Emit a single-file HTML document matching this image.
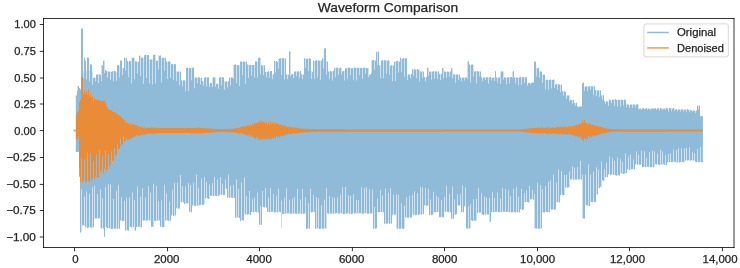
<!DOCTYPE html>
<html><head><meta charset="utf-8"><title>Waveform Comparison</title>
<style>html,body{margin:0;padding:0;background:#fff;}body{width:740px;height:268px;overflow:hidden;font-family:"Liberation Sans",sans-serif;}svg{display:block;will-change:transform;}svg text{font-family:"Liberation Sans",sans-serif;}</style>
</head><body>
<svg width="740" height="268" viewBox="0 0 740 268">
<rect width="740" height="268" fill="#fff"/>
<path fill="#8fbbd9" d="M75.8 95.26H76V151.88H75.8ZM76 95.52H76.45V151.94H76ZM76.45 95.52H77V151.99H76.45ZM77 86.29H77.45V151.95H77ZM77.45 90.96H78V151.95H77.45ZM78 86.03H78.45V151.65H78ZM78.45 86.03H79V151.84H78.45ZM79 88.07H80V167.66H79ZM80 88.66H80.45V232.4H80ZM80.45 89.6H81V232.4H80.45ZM81 28.75H81.45V231.74H81ZM81.45 28.75H82V189.36H81.45ZM82 28.57H83V225.22H82ZM83 71.04H83.45V225.31H83ZM83.45 78.52H84V225.31H83.45ZM84 57.62H84.45V225.91H84ZM84.45 57.62H85V196.55H84.45ZM85 60.65H86V227.36H85ZM86 70.47H86.45V226.99H86ZM86.45 79.27H87V191.46H86.45ZM87 57.55H88V227.95H87ZM88 57.66H89V227.46H88ZM89 70.34H89.45V227.75H89ZM89.45 81.42H90V193.89H89.45ZM90 64.24H91V227.36H90ZM91 64.56H92V227.8H91ZM92 71.46H92.45V227.58H92ZM92.45 84.53H93V187.49H92.45ZM93 77.73H94V227.22H93ZM94 77.59H94.45V218.67H94ZM94.45 77.59H95V185.8H94.45ZM95 77.62H95.45V218.61H95ZM95.45 81.16H96V218.61H95.45ZM96 74.53H97V218.39H96ZM97 74.46H97.45V218.3H97ZM97.45 74.46H98V194.01H97.45ZM98 74.56H98.45V218.52H98ZM98.45 82.94H99V218.52H98.45ZM99 74.36H100V218.33H99ZM100 74.76H100.45V228.62H100ZM100.45 74.76H101V189.32H100.45ZM101 64.55H101.45V228.44H101ZM101.45 81.12H102V228.44H101.45ZM102 65.29H102.45V228.34H102ZM102.45 65.29H103V198.22H102.45ZM103 60.81H104V228.47H103ZM104 60.52H104.45V236.63H104ZM104.45 72.96H105V236.63H104.45ZM105 70.09H105.45V227.45H105ZM105.45 70.09H106V186.83H105.45ZM106 71.1H107V227.3H106ZM107 71.31H107.45V228.3H107ZM107.45 77.52H108V228.3H107.45ZM108 71.36H108.45V228.56H108ZM108.45 71.36H109V184.31H108.45ZM109 71.66H110V228.31H109ZM110 71.22H110.45V228.67H110ZM110.45 79.68H111V184.34H110.45ZM111 71.77H112V228.88H111ZM112 71.14H113V228.81H112ZM113 71.19H113.45V228.61H113ZM113.45 81.42H114V198.98H113.45ZM114 71H115V228.66H114ZM115 71.3H116V228.55H115ZM116 71.76H116.45V228.45H116ZM116.45 80.84H117V190.68H116.45ZM117 65.04H118V228.96H117ZM118 65.22H118.45V228.38H118ZM118.45 65.22H119V184.72H118.45ZM119 65.14H119.45V228.69H119ZM119.45 77.43H120V228.69H119.45ZM120 60.58H121V220.49H120ZM121 60.55H121.45V220.95H121ZM121.45 60.55H122V197.33H121.45ZM122 68.13H122.45V220.73H122ZM122.45 75.05H123V220.73H122.45ZM123 68H124V220.88H123ZM124 57.58H124.45V220.71H124ZM124.45 57.58H125V200.83H124.45ZM125 58.2H125.45V230.51H125ZM125.45 70.83H126V230.51H125.45ZM126 57.7H126.45V230.72H126ZM126.45 57.7H127V197.47H126.45ZM127 61.1H128V230.32H127ZM128 61.79H128.45V230.63H128ZM128.45 77.21H129V230.63H128.45ZM129 61.07H129.45V227.42H129ZM129.45 61.07H130V196.96H129.45ZM130 61.21H131V226.84H130ZM131 57.63H131.45V227.48H131ZM131.45 83.45H132V227.48H131.45ZM132 57.92H132.45V227.38H132ZM132.45 57.92H133V192.45H132.45ZM133 57.52H134V227.08H133ZM134 58.28H134.45V230.31H134ZM134.45 79.59H135V199.95H134.45ZM135 61.29H136V230.87H135ZM136 61.62H137V227.07H136ZM137 61.62H137.45V227.24H137ZM137.45 73.81H138V186.47H137.45ZM138 61.79H139V226.82H138ZM139 55.64H140V226.85H139ZM140 55.59H140.45V227.32H140ZM140.45 76.18H141V196.8H140.45ZM141 57.52H142V227.48H141ZM142 57.72H142.45V220.79H142ZM142.45 57.72H143V188.25H142.45ZM143 58.27H143.45V220.64H143ZM143.45 83.67H144V220.64H143.45ZM144 55.29H145V220.24H144ZM145 54.79H145.45V220.82H145ZM145.45 54.79H146V197.26H145.45ZM146 54.66H146.45V220.84H146ZM146.45 77.99H147V220.84H146.45ZM147 55.22H148V220.33H147ZM148 54.88H148.45V220.48H148ZM148.45 54.88H149V186.28H148.45ZM149 59.07H149.45V220.47H149ZM149.45 83.49H150V220.47H149.45ZM150 59.63H150.45V220.4H150ZM150.45 59.63H151V192.4H150.45ZM151 59.14H152V226.87H151ZM152 59.27H152.45V226.86H152ZM152.45 84.56H153V226.86H152.45ZM153 54.82H153.45V227.18H153ZM153.45 54.82H154V183.77H153.45ZM154 55.08H155V220.86H154ZM155 54.6H155.45V220.88H155ZM155.45 83.37H156V220.88H155.45ZM156 60.65H156.45V220.88H156ZM156.45 60.65H157V185.97H156.45ZM157 60.78H158V220.47H157ZM158 55.28H158.45V220.56H158ZM158.45 69.61H159V201.36H158.45ZM159 55.78H160V220.48H159ZM160 55.42H161V226.75H160ZM161 57.85H161.45V226.8H161ZM161.45 82.46H162V200.14H161.45ZM162 57.7H163V227.27H162ZM163 57.69H164V227.03H163ZM164 57.71H164.45V227.16H164ZM164.45 70.98H165V184.83H164.45ZM165 57.78H166V220.63H165ZM166 61.47H166.45V220.28H166ZM166.45 61.47H167V193.71H166.45ZM167 61.73H167.45V220.6H167ZM167.45 78.86H168V220.6H167.45ZM168 61.42H169V220.99H168ZM169 61.35H169.45V220.85H169ZM169.45 61.35H170V201.82H169.45ZM170 61.64H170.45V220.86H170ZM170.45 78.07H171V220.86H170.45ZM171 64.33H172V215.55H171ZM172 64.01H172.45V215.59H172ZM172.45 64.01H173V189.54H172.45ZM173 64.38H173.45V215.92H173ZM173.45 80.12H174V215.92H173.45ZM174 63.95H174.45V215.78H174ZM174.45 63.95H175V182.74H174.45ZM175 64.16H176V215.55H175ZM176 71.61H176.45V208.27H176ZM176.45 81.11H177V208.27H176.45ZM177 71.49H177.45V208.6H177ZM177.45 71.49H178V182.44H177.45ZM178 71.55H179V208.64H178ZM179 71.43H179.45V208.62H179ZM179.45 85.47H180V208.62H179.45ZM180 71.56H180.45V201.8H180ZM180.45 71.56H181V174.8H180.45ZM181 80.21H182V202.05H181ZM182 80.75H182.45V201.83H182ZM182.45 86.17H183V186.22H182.45ZM183 80.35H184V202.44H183ZM184 80.19H185V203.94H184ZM185 80.54H185.45V203.37H185ZM185.45 91.19H186V186.42H185.45ZM186 68.07H187V203.47H186ZM187 67.61H188V203.29H187ZM188 68.27H188.45V203.82H188ZM188.45 91.12H189V182.97H188.45ZM189 67.89H190V211.71H189ZM190 68.17H190.45V212.37H190ZM190.45 68.17H191V184.91H190.45ZM191 67.91H191.45V212.23H191ZM191.45 80.22H192V212.23H191.45ZM192 67.75H193V205.42H192ZM193 67.52H193.45V205.56H193ZM193.45 67.52H194V182.83H193.45ZM194 77.01H194.45V205.73H194ZM194.45 88.31H195V205.73H194.45ZM195 77.41H196V205.95H195ZM196 77.79H196.45V205.37H196ZM196.45 77.79H197V174.44H196.45ZM197 77.08H197.45V205.79H197ZM197.45 83.2H198V205.79H197.45ZM198 77.62H198.45V205.78H198ZM198.45 77.62H199V187.83H198.45ZM199 77.34H200V205.27H199ZM200 77.66H200.45V204.79H200ZM200.45 84.39H201V204.79H200.45ZM201 77.74H201.45V204.54H201ZM201.45 77.74H202V178.58H201.45ZM202 81.07H203V204.95H202ZM203 81.55H203.45V204.66H203ZM203.45 85.88H204V204.66H203.45ZM204 77.75H204.45V204.49H204ZM204.45 77.75H205V177.02H204.45ZM205 77.07H206V198.32H205ZM206 77.05H206.45V198.31H206ZM206.45 86.58H207V182.03H206.45ZM207 77.44H208V198.26H207ZM208 77.21H209V198.9H208ZM209 83.42H209.45V198.81H209ZM209.45 87.01H210V184.4H209.45ZM210 83.04H211V195.84H210ZM211 83.25H212V195.76H211ZM212 77.61H212.45V195.77H212ZM212.45 87.01H213V182.95H212.45ZM213 77.28H214V195.99H213ZM214 77.2H214.45V195.99H214ZM214.45 77.2H215V176.93H214.45ZM215 77.44H215.45V195.85H215ZM215.45 86.68H216V195.85H215.45ZM216 83.75H217V195.91H216ZM217 83.66H217.45V195.65H217ZM217.45 83.66H218V179.47H217.45ZM218 83.67H218.45V195.69H218ZM218.45 88.72H219V195.69H218.45ZM219 77.55H220V195.21H219ZM220 77.27H220.45V194.33H220ZM220.45 77.27H221V176.98H220.45ZM221 77.51H221.45V194.68H221ZM221.45 85.56H222V194.68H221.45ZM222 77.04H222.45V194.9H222ZM222.45 77.04H223V183.71H222.45ZM223 77.59H224V194.8H223ZM224 81.13H224.45V194.93H224ZM224.45 89.74H225V194.93H224.45ZM225 81.7H225.45V188.46H225ZM225.45 81.7H226V179.19H225.45ZM226 81.19H227V188.77H226ZM227 81.37H227.45V197.87H227ZM227.45 87.5H228V197.87H227.45ZM228 81.21H228.45V197.23H228ZM228.45 81.21H229V174.32H228.45ZM229 77.44H230V197.8H229ZM230 77.77H230.45V197.75H230ZM230.45 85.56H231V185.86H230.45ZM231 77.31H232V197.62H231ZM232 77.4H233V197.84H232ZM233 64.9H233.45V198H233ZM233.45 79.12H234V184.92H233.45ZM234 64.82H235V197.97H234ZM235 64.52H236V217.76H235ZM236 64.69H236.45V217.53H236ZM236.45 83.04H237V179.43H236.45ZM237 65.03H238V217.43H237ZM238 65.2H238.45V217.69H238ZM238.45 65.2H239V188.72H238.45ZM239 65.29H239.45V217.88H239ZM239.45 86.06H240V217.88H239.45ZM240 61.51H241V220.96H240ZM241 61.67H241.45V220.29H241ZM241.45 61.67H242V182.62H241.45ZM242 61.59H242.45V220.35H242ZM242.45 75.37H243V220.35H242.45ZM243 61.42H244V220.6H243ZM244 61.67H244.45V214.36H244ZM244.45 61.67H245V177.5H244.45ZM245 61.47H245.45V214.29H245ZM245.45 83.76H246V214.29H245.45ZM246 61.55H246.45V214.82H246ZM246.45 61.55H247V195.94H246.45ZM247 64.61H248V214.71H247ZM248 64.58H248.45V214.33H248ZM248.45 78.12H249V214.33H248.45ZM249 65H249.45V214.5H249ZM249.45 65H250V191.05H249.45ZM250 64.89H251V215H250ZM251 65.14H251.45V211.9H251ZM251.45 75.58H252V211.9H251.45ZM252 64.93H252.45V211.97H252ZM252.45 64.93H253V199.18H252.45ZM253 65.09H254V212.3H253ZM254 64.56H254.45V212.29H254ZM254.45 77.54H255V197.62H254.45ZM255 61.59H256V211.72H255ZM256 61.4H257V212.19H256ZM257 61.38H257.45V211.95H257ZM257.45 77.47H258V192.52H257.45ZM258 58.01H259V212.44H258ZM259 57.62H260V224.8H259ZM260 58.09H260.45V224.76H260ZM260.45 74.41H261V206.09H260.45ZM261 65.05H262V224.78H261ZM262 65.54H262.45V206.95H262ZM262.45 65.54H263V190.95H262.45ZM263 65.23H263.45V207.09H263ZM263.45 75.36H264V207.09H263.45ZM264 65.37H265V207.41H264ZM265 71.71H265.45V207.34H265ZM265.45 71.71H266V188.04H265.45ZM266 71.75H266.45V207.49H266ZM266.45 77.45H267V207.49H266.45ZM267 71.66H268V211.73H267ZM268 71.36H268.45V212.29H268ZM268.45 71.36H269V197.47H268.45ZM269 71.76H269.45V212.33H269ZM269.45 78.1H270V212.33H269.45ZM270 71.11H270.45V212.08H270ZM270.45 71.11H271V188.34H270.45ZM271 71.11H272V211.84H271ZM272 74.41H272.45V211.79H272ZM272.45 79.22H273V211.79H272.45ZM273 74.19H273.45V211.78H273ZM273.45 74.19H274V193.91H273.45ZM274 61.02H275V212.5H274ZM275 61.39H275.45V212.14H275ZM275.45 72.38H276V212.14H275.45ZM276 61.11H276.45V212.22H276ZM276.45 61.11H277V196.08H276.45ZM277 61.67H278V212.5H277ZM278 58.6H278.45V211.83H278ZM278.45 68.86H279V188.56H278.45ZM279 58.57H280V211.78H279ZM280 58.23H281V212.2H280ZM281 58.31H281.45V228.2H281ZM281.45 74.93H282V200.61H281.45ZM282 58.34H283V213.78H282ZM283 58.04H284V213.92H283ZM284 58.67H284.45V213.77H284ZM284.45 79.55H285V197.43H284.45ZM285 58.21H286V213.59H285ZM286 74.15H286.45V213.7H286ZM286.45 74.15H287V188.16H286.45ZM287 74.71H287.45V213.35H287ZM287.45 79.16H288V213.35H287.45ZM288 74.73H289V213.25H288ZM289 51.44H289.45V213.42H289ZM289.45 51.44H290V199.85H289.45ZM290 51.59H290.45V213.64H290ZM290.45 76.18H291V213.64H290.45ZM291 74.52H292V213.77H291ZM292 74.04H292.45V213.26H292ZM292.45 74.04H293V198.75H292.45ZM293 74.38H293.45V213.73H293ZM293.45 77.92H294V213.73H293.45ZM294 71.59H294.45V213.22H294ZM294.45 71.59H295V197.01H294.45ZM295 71.52H296V213.76H295ZM296 71.45H296.45V213.68H296ZM296.45 75.99H297V213.68H296.45ZM297 71.13H297.45V213.83H297ZM297.45 71.13H298V188.7H297.45ZM298 71.4H299V213.82H298ZM299 71.73H299.45V213.2H299ZM299.45 77.65H300V213.2H299.45ZM300 71.11H300.45V213.85H300ZM300.45 71.11H301V199.44H300.45ZM301 74.27H302V213.93H301ZM302 74.19H302.45V213.79H302ZM302.45 78.95H303V188.89H302.45ZM303 74.6H304V213.67H303ZM304 58.33H305V213.58H304ZM305 58.3H305.45V213.73H305ZM305.45 68.07H306V196.89H305.45ZM306 58.77H307V228.9H306ZM307 58.4H308V228.5H307ZM308 58.69H308.45V228.83H308ZM308.45 71.06H309V202.92H308.45ZM309 58.32H310V228.64H309ZM310 58.76H310.45V211.82H310ZM310.45 58.76H311V188.87H310.45ZM311 71.02H311.45V212.47H311ZM311.45 79.01H312V212.47H311.45ZM312 71.72H313V212.12H312ZM313 60.47H313.45V212.5H313ZM313.45 60.47H314V194.95H313.45ZM314 60.74H314.45V211.84H314ZM314.45 79H315V211.84H314.45ZM315 60.78H316V228.8H315ZM316 60.09H316.45V228.88H316ZM316.45 60.09H317V197.18H316.45ZM317 60.55H317.45V228.25H317ZM317.45 77.39H318V228.25H317.45ZM318 60.52H318.45V228.39H318ZM318.45 60.52H319V198.39H318.45ZM319 60.44H320V228.97H319ZM320 60.63H320.45V228.81H320ZM320.45 79.84H321V228.81H320.45ZM321 60.52H321.45V228.76H321ZM321.45 60.52H322V205.31H321.45ZM322 58.2H323V228.49H322ZM323 58.56H323.45V228.91H323ZM323.45 68.41H324V228.91H323.45ZM324 48.42H324.45V228.53H324ZM324.45 48.42H325V199.81H324.45ZM325 48.18H326V228.52H325ZM326 61.01H326.45V228.76H326ZM326.45 74.45H327V187.98H326.45ZM327 61.52H328V213.29H327ZM328 71.38H329V213.81H328ZM329 71.2H329.45V213.23H329ZM329.45 79.19H330V196.14H329.45ZM330 71.02H331V213.6H330ZM331 71.54H332V213.66H331ZM332 71.21H332.45V213.47H332ZM332.45 80.51H333V197.27H332.45ZM333 71.03H334V213.73H333ZM334 67.84H334.45V213.45H334ZM334.45 67.84H335V197.63H334.45ZM335 68.14H335.45V213.41H335ZM335.45 77.16H336V213.41H335.45ZM336 67.66H337V213.22H336ZM337 67.75H337.45V213.34H337ZM337.45 67.75H338V197.13H337.45ZM338 67.68H338.45V213.39H338ZM338.45 75.37H339V213.39H338.45ZM339 68.26H340V213.6H339ZM340 67.65H340.45V213.82H340ZM340.45 67.65H341V194.79H340.45ZM341 68.03H341.45V213.24H341ZM341.45 74.38H342V213.24H341.45ZM342 71.31H342.45V213.83H342ZM342.45 71.31H343V187.29H342.45ZM343 71.11H344V213.96H343ZM344 71.05H344.45V213.69H344ZM344.45 80.47H345V213.69H344.45ZM345 68.21H345.45V213.41H345ZM345.45 68.21H346V186.94H345.45ZM346 68.25H347V213.74H346ZM347 67.65H347.45V213.25H347ZM347.45 79.06H348V213.25H347.45ZM348 67.53H348.45V213.47H348ZM348.45 67.53H349V195.14H348.45ZM349 67.8H350V213.73H349ZM350 67.64H350.45V214H350ZM350.45 75.31H351V195.65H350.45ZM351 68.26H352V213.9H351ZM352 68.27H353V213.83H352ZM353 67.79H353.45V213.34H353ZM353.45 79.75H354V194.34H353.45ZM354 67.54H355V213.62H354ZM355 67.8H356V213.26H355ZM356 67.65H356.45V213.71H356ZM356.45 80.38H357V199.84H356.45ZM357 67.83H358V213.35H357ZM358 68.11H358.45V213.97H358ZM358.45 68.11H359V199.89H358.45ZM359 67.55H359.45V213.26H359ZM359.45 75.14H360V213.26H359.45ZM360 68.1H361V213.28H360ZM361 67.77H361.45V213.78H361ZM361.45 67.77H362V187.3H361.45ZM362 67.99H362.45V213.79H362ZM362.45 79.03H363V213.79H362.45ZM363 67.75H364V213.78H363ZM364 67.5H364.45V213.4H364ZM364.45 67.5H365V187.81H364.45ZM365 68.01H365.45V213.25H365ZM365.45 73.53H366V213.25H365.45ZM366 67.69H366.45V213.62H366ZM366.45 67.69H367V187.25H366.45ZM367 68.26H368V213.69H367ZM368 67.7H368.45V213.66H368ZM368.45 77.2H369V213.66H368.45ZM369 74.74H369.45V213.85H369ZM369.45 74.74H370V189.32H369.45ZM370 74.59H371V213.34H370ZM371 60.62H371.45V213.51H371ZM371.45 73.01H372V213.51H371.45ZM372 60.26H372.45V213.71H372ZM372.45 60.26H373V189.55H372.45ZM373 60.06H374V228.84H373ZM374 60.6H374.45V228.8H374ZM374.45 69.74H375V206.97H374.45ZM375 60.44H376V228.74H375ZM376 51.78H377V228.29H376ZM377 51.79H377.45V212.29H377ZM377.45 65.15H378V198.17H377.45ZM378 51.4H379V211.93H378ZM379 65.36H380V212.31H379ZM380 65.33H380.45V212H380ZM380.45 78.33H381V189.72H380.45ZM381 60.68H382V211.97H381ZM382 60.1H382.45V211.83H382ZM382.45 60.1H383V195.43H382.45ZM383 60.45H383.45V212.2H383ZM383.45 78.21H384V212.2H383.45ZM384 60.16H385V223.8H384ZM385 60.2H385.45V223.88H385ZM385.45 60.2H386V188.62H385.45ZM386 60.46H386.45V223.74H386ZM386.45 73.92H387V223.74H386.45ZM387 60.79H388V223.59H387ZM388 60.19H388.45V223.35H388ZM388.45 60.19H389V192.82H388.45ZM389 60.79H389.45V223.92H389ZM389.45 75.04H390V223.92H389.45ZM390 65.66H390.45V223.33H390ZM390.45 65.66H391V187.98H390.45ZM391 65.03H392V223.77H391ZM392 65.1H392.45V214.85H392ZM392.45 81.36H393V214.85H392.45ZM393 65.47H393.45V214.26H393ZM393.45 65.47H394V195.12H393.45ZM394 61.69H395V214.64H394ZM395 61.21H395.45V214.38H395ZM395.45 81H396V214.38H395.45ZM396 61.08H396.45V228.52H396ZM396.45 61.08H397V194.34H396.45ZM397 61.17H398V228.71H397ZM398 61.11H398.45V228.84H398ZM398.45 72.5H399V194.82H398.45ZM399 61.52H400V228.84H399ZM400 58.01H401V228.74H400ZM401 58.54H401.45V228.85H401ZM401.45 72.16H402V203.23H401.45ZM402 58.64H403V228.56H402ZM403 58.05H404V228.92H403ZM404 58.32H404.45V228.56H404ZM404.45 76.69H405V205.47H404.45ZM405 58.13H406V217.44H405ZM406 58.33H406.45V217.77H406ZM406.45 58.33H407V197.14H406.45ZM407 74.76H407.45V217.75H407ZM407.45 79.97H408V217.75H407.45ZM408 74.29H409V217.67H408ZM409 74.69H409.45V217.2H409ZM409.45 74.69H410V196.05H409.45ZM410 74.16H410.45V217.42H410ZM410.45 78.17H411V217.42H410.45ZM411 74H412V217.28H411ZM412 69.34H412.45V214.34H412ZM412.45 69.34H413V194.52H412.45ZM413 69.71H413.45V214.63H413ZM413.45 75.76H414V214.63H413.45ZM414 69.01H414.45V214.56H414ZM414.45 69.01H415V191.23H414.45ZM415 69.73H416V214.93H415ZM416 69.5H416.45V214.7H416ZM416.45 78.21H417V214.7H416.45ZM417 69.12H417.45V214.77H417ZM417.45 69.12H418V192.95H417.45ZM418 69.74H419V214.91H418ZM419 69.39H419.45V214.36H419ZM419.45 81.69H420V214.36H419.45ZM420 71.16H420.45V214.9H420ZM420.45 71.16H421V186.87H420.45ZM421 71.78H422V214.61H421ZM422 71.04H422.45V214.26H422ZM422.45 77.96H423V187.38H422.45ZM423 71.5H424V214.34H423ZM424 77.13H425V205.37H424ZM425 77.18H425.45V205.68H425ZM425.45 81.57H426V187.67H425.45ZM426 77.15H427V205.83H426ZM427 67.82H428V205.59H427ZM428 67.81H428.45V205.9H428ZM428.45 75.66H429V188.68H428.45ZM429 71.72H430V214.97H429ZM430 71.45H430.45V214.39H430ZM430.45 71.45H431V199.6H430.45ZM431 71.67H431.45V214.91H431ZM431.45 79.71H432V214.91H431.45ZM432 71.44H433V214.5H432ZM433 71.24H433.45V214.66H433ZM433.45 71.24H434V191.85H433.45ZM434 71.34H434.45V211.97H434ZM434.45 78.7H435V211.97H434.45ZM435 71.35H436V212.48H435ZM436 71.5H436.45V212.11H436ZM436.45 71.5H437V195.85H436.45ZM437 71.61H437.45V211.88H437ZM437.45 78.94H438V211.88H437.45ZM438 71.14H438.45V212.12H438ZM438.45 71.14H439V197.52H438.45ZM439 74.1H440V217.16H439ZM440 74.07H440.45V217.15H440ZM440.45 80.09H441V217.15H440.45ZM441 74.03H441.45V216.99H441ZM441.45 74.03H442V200.05H441.45ZM442 68.09H443V216.88H442ZM443 67.91H443.45V217.46H443ZM443.45 78.3H444V217.46H443.45ZM444 71.3H444.45V211.74H444ZM444.45 71.3H445V196.91H444.45ZM445 71.69H446V211.7H445ZM446 71.59H446.45V211.85H446ZM446.45 77.38H447V185.83H446.45ZM447 71.39H448V211.73H447ZM448 71.73H449V212.37H448ZM449 71.63H449.45V211.76H449ZM449.45 76.6H450V194.04H449.45ZM450 71.6H451V212.37H450ZM451 68.22H452V218.78H451ZM452 68.15H452.45V218.89H452ZM452.45 78.6H453V186.81H452.45ZM453 74.17H454V218.79H453ZM454 74.4H454.45V214.74H454ZM454.45 74.4H455V199.55H454.45ZM455 74.15H455.45V214.87H455ZM455.45 82.82H456V214.87H455.45ZM456 74.54H457V214.28H456ZM457 74.13H457.45V205.37H457ZM457.45 74.13H458V194.23H457.45ZM458 74.42H458.45V205.49H458ZM458.45 79.88H459V205.49H458.45ZM459 74.7H460V205.56H459ZM460 77.46H460.45V205.29H460ZM460.45 77.46H461V194.26H460.45ZM461 77.79H461.45V212H461ZM461.45 81.36H462V212H461.45ZM462 77.64H462.45V212.29H462ZM462.45 77.64H463V185.41H462.45ZM463 77.46H464V212.21H463ZM464 77.61H464.45V206.15H464ZM464.45 80.59H465V206.15H464.45ZM465 77.59H465.45V206.46H465ZM465.45 77.59H466V187.14H465.45ZM466 77.2H467V228.49H466ZM467 61.79H467.45V228.53H467ZM467.45 79.21H468V228.53H467.45ZM468 61.25H468.45V229H468ZM468.45 61.25H469V206.34H468.45ZM469 64.62H470V228.51H469ZM470 64.85H470.45V228.59H470ZM470.45 82.55H471V203.99H470.45ZM471 64.68H472V220.48H471ZM472 64.52H473V221H472ZM473 64.78H473.45V220.91H473ZM473.45 76.49H474V198.98H473.45ZM474 71.47H475V220.53H474ZM475 71.16H476V220.5H475ZM476 71.38H476.45V220.89H476ZM476.45 83.48H477V198.59H476.45ZM477 71.12H478V212.92H477ZM478 71.51H478.45V212.3H478ZM478.45 71.51H479V187.96H478.45ZM479 71.32H479.45V212.79H479ZM479.45 76.51H480V212.79H479.45ZM480 71.52H481V212.55H480ZM481 77.28H481.45V214.48H481ZM481.45 77.28H482V193.15H481.45ZM482 77.75H482.45V214.41H482ZM482.45 81.29H483V214.41H482.45ZM483 77.72H484V214.96H483ZM484 77.43H484.45V214.68H484ZM484.45 77.43H485V196.23H484.45ZM485 77.05H485.45V214.38H485ZM485.45 80H486V214.38H485.45ZM486 77.44H486.45V214.25H486ZM486.45 77.44H487V197.45H486.45ZM487 77.16H488V214.51H487ZM488 77.41H488.45V214.49H488ZM488.45 83.63H489V214.49H488.45ZM489 77.14H489.45V222.25H489ZM489.45 77.14H490V197.88H489.45ZM490 77.04H491V221.79H490ZM491 77.63H491.45V211.93H491ZM491.45 80.42H492V211.93H491.45ZM492 77.68H492.45V211.9H492ZM492.45 77.68H493V191.98H492.45ZM493 77.59H494V212.14H493ZM494 77.18H494.45V212.42H494ZM494.45 81.21H495V198.01H494.45ZM495 71.27H496V211.9H495ZM496 77.56H497V211.82H496ZM497 77.57H497.45V212.29H497ZM497.45 82.84H498V192.42H497.45ZM498 77.63H499V212.08H498ZM499 77.21H500V211.99H499ZM500 71.77H500.45V212.33H500ZM500.45 83.93H501V198.23H500.45ZM501 71.21H502V212.31H501ZM502 71.6H502.45V211.74H502ZM502.45 71.6H503V187.98H502.45ZM503 71.26H503.45V211.8H503ZM503.45 79.46H504V211.8H503.45ZM504 77.19H505V211.77H504ZM505 77.5H505.45V211.95H505ZM505.45 77.5H506V189.07H505.45ZM506 77.78H506.45V212.12H506ZM506.45 84.4H507V212.12H506.45ZM507 77.56H508V211.81H507ZM508 77.35H508.45V211.92H508ZM508.45 77.35H509V190.32H508.45ZM509 77.25H509.45V212.33H509ZM509.45 83.41H510V212.33H509.45ZM510 77.06H510.45V211.77H510ZM510.45 77.06H511V196.09H510.45ZM511 77.02H512V212.41H511ZM512 71.74H512.45V212.22H512ZM512.45 78.34H513V212.22H512.45ZM513 71.02H513.45V212.47H513ZM513.45 71.02H514V188.64H513.45ZM514 77.51H515V211.94H514ZM515 77.59H515.45V212.45H515ZM515.45 83.52H516V212.45H515.45ZM516 77.29H516.45V211.85H516ZM516.45 77.29H517V186.75H516.45ZM517 77.71H518V212.45H517ZM518 77.69H518.45V211.77H518ZM518.45 85.3H519V196.52H518.45ZM519 77.16H520V212.41H519ZM520 77.03H521V209.32H520ZM521 77.65H521.45V209.49H521ZM521.45 84.83H522V188.83H521.45ZM522 77.23H523V209.92H522ZM523 77.08H524V209.39H523ZM524 77.16H524.45V202.24H524ZM524.45 82.81H525V192.98H524.45ZM525 77.21H526V202.27H525ZM526 77.57H526.45V202.21H526ZM526.45 77.57H527V190.23H526.45ZM527 83.27H527.45V202.1H527ZM527.45 85.67H528V202.1H527.45ZM528 82.99H529V202.48H528ZM529 82.83H529.45V202.15H529ZM529.45 82.83H530V186.07H529.45ZM530 82.78H530.45V199.44H530ZM530.45 84.56H531V199.44H530.45ZM531 82.67H532V199.31H531ZM532 82.57H532.45V199.34H532ZM532.45 82.57H533V189.78H532.45ZM533 82.5H533.45V199.84H533ZM533.45 82.5H534V199.84H533.45ZM534 61.78H534.45V229H534ZM534.45 61.78H535V194.11H534.45ZM535 61.39H536V228.36H535ZM536 67.65H536.45V228.6H536ZM536.45 76.54H537V228.6H536.45ZM537 68.17H537.45V228.79H537ZM537.45 68.17H538V182.34H537.45ZM538 67.73H539V228.83H538ZM539 71.56H539.45V228.6H539ZM539.45 77.82H540V228.6H539.45ZM540 71.51H540.45V228.94H540ZM540.45 71.51H541V185.01H540.45ZM541 71.56H542V228.37H541ZM542 74.5H542.45V212.22H542ZM542.45 82.98H543V189.05H542.45ZM543 74.71H544V212.43H543ZM544 74.71H545V212.48H544ZM545 79.66H545.45V212.29H545ZM545.45 89.58H546V186.3H545.45ZM546 79.8H547V211.79H546ZM547 79.69H548V212.13H547ZM548 79.93H548.45V211.9H548ZM548.45 89.7H549V182.07H548.45ZM549 79.78H550V212.24H549ZM550 79.62H550.45V209.33H550ZM550.45 79.62H551V180.25H550.45ZM551 80.09H551.45V209.86H551ZM551.45 88.39H552V209.86H551.45ZM552 80.12H553V209.54H552ZM553 79.6H553.45V209.63H553ZM553.45 79.6H554V174.48H553.45ZM554 79.69H554.45V209.85H554ZM554.45 87.89H555V209.85H554.45ZM555 84.56H556V209.33H555ZM556 84.12H556.45V202.38H556ZM556.45 84.12H557V182.39H556.45ZM557 84.26H557.45V202.08H557ZM557.45 89.81H558V202.08H557.45ZM558 84.26H558.45V202.35H558ZM558.45 84.26H559V169.41H558.45ZM559 84.58H560V202.42H559ZM560 84.77H560.45V194.92H560ZM560.45 92.57H561V194.92H560.45ZM561 84.79H561.45V194.36H561ZM561.45 84.79H562V171.04H561.45ZM562 91.35H563V194.84H562ZM563 91.51H563.45V194.91H563ZM563.45 95.4H564V194.91H563.45ZM564 91.31H564.45V194.97H564ZM564.45 91.31H565V174.96H564.45ZM565 91.63H566V187.45H565ZM566 95.4H566.45V187.49H566ZM566.45 99.07H567V175.02H566.45ZM567 95.48H568V187.68H567ZM568 95.59H569V187.27H568ZM569 95.34H569.45V187.54H569ZM569.45 101.58H570V171.2H569.45ZM570 99.68H571V179.42H570ZM571 100.2H572V179.38H571ZM572 100.06H572.45V179.32H572ZM572.45 103.7H573V166.3H572.45ZM573 99.86H574V179.75H573ZM574 103H574.45V179.92H574ZM574.45 103H575V167.72H574.45ZM575 103.13H575.45V179.43H575ZM575.45 105.7H576V179.43H575.45ZM576 102.7H577V179.66H576ZM577 106.36H577.45V179.5H577ZM577.45 106.36H578V166.91H577.45ZM578 106.54H578.45V179.26H578ZM578.45 107.28H579V179.26H578.45ZM579 106.52H580V179.38H579ZM580 106.31H580.45V179.61H580ZM580.45 106.31H581V160.79H580.45ZM581 106.03H581.45V179.57H581ZM581.45 107.01H582V179.57H581.45ZM582 83.13H582.45V218.25H582ZM582.45 83.13H583V174.64H582.45ZM583 82.58H584V218.54H583ZM584 86.43H584.45V218.43H584ZM584.45 90.75H585V218.43H584.45ZM585 86.51H585.45V205.34H585ZM585.45 86.51H586V174.52H585.45ZM586 86.33H587V205.24H586ZM587 86.17H587.45V205.45H587ZM587.45 90.88H588V205.45H587.45ZM588 86.61H588.45V205.9H588ZM588.45 86.61H589V164.16H588.45ZM589 86.28H590V205.95H589ZM590 86.22H590.45V202.18H590ZM590.45 89.66H591V174.51H590.45ZM591 86.34H592V201.94H591ZM592 86.28H593V202.29H592ZM593 86.18H593.45V201.91H593ZM593.45 95.36H594V171.56H593.45ZM594 86.18H595V201.86H594ZM595 90.31H596V202.33H595ZM596 90.1H596.45V194.38H596ZM596.45 96H597V167.24H596.45ZM597 90.38H598V194.55H597ZM598 90.18H598.45V188.23H598ZM598.45 90.18H599V169.47H598.45ZM599 90.51H599.45V188.35H599ZM599.45 97.02H600V188.35H599.45ZM600 90.37H601V186.76H600ZM601 95.44H601.45V186.9H601ZM601.45 95.44H602V161.55H601.45ZM602 95.28H602.45V180.32H602ZM602.45 99.61H603V180.32H602.45ZM603 95.3H604V180.8H603ZM604 101.34H604.45V180.85H604ZM604.45 101.34H605V169.27H604.45ZM605 101.58H605.45V177.28H605ZM605.45 104.09H606V177.28H605.45ZM606 101.24H606.45V177.12H606ZM606.45 101.24H607V162.57H606.45ZM607 101.51H608V176.97H607ZM608 101.29H608.45V174.26H608ZM608.45 106.04H609V174.26H608.45ZM609 99.55H609.45V174.34H609ZM609.45 99.55H610V156.15H609.45ZM610 100.13H611V174.89H610ZM611 100.17H611.45V174.49H611ZM611.45 102.89H612V174.49H611.45ZM612 99.51H612.45V174.24H612ZM612.45 99.51H613V157.9H612.45ZM613 99.7H614V174.92H613ZM614 99.61H614.45V174.81H614ZM614.45 106.15H615V160.87H614.45ZM615 99.12H616V175.28H615ZM616 99.63H617V175.87H616ZM617 99.71H617.45V175.51H617ZM617.45 106.48H618V157.15H617.45ZM618 99.72H619V175.37H618ZM619 99.67H620V175.84H619ZM620 99.55H620.45V173.58H620ZM620.45 106.55H621V158.7H620.45ZM621 99.71H622V173.56H621ZM622 99.71H622.45V173.81H622ZM622.45 99.71H623V161.67H622.45ZM623 99.89H623.45V173.95H623ZM623.45 105.52H624V173.95H623.45ZM624 99.62H625V173.61H624ZM625 99.9H625.45V173.57H625ZM625.45 99.9H626V153.39H625.45ZM626 104.01H626.45V173.33H626ZM626.45 107.07H627V173.33H626.45ZM627 104.45H628V169.47H627ZM628 104.67H628.45V169.7H628ZM628.45 104.67H629V156.65H628.45ZM629 104.77H629.45V169.94H629ZM629.45 107.95H630V169.94H629.45ZM630 104.51H630.45V169.98H630ZM630.45 104.51H631V154.62H630.45ZM631 104.55H632V169.25H631ZM632 104.26H632.45V169.21H632ZM632.45 107.73H633V169.21H632.45ZM633 104.39H633.45V169.28H633ZM633.45 104.39H634V159.47H633.45ZM634 104.57H635V169.5H634ZM635 104.27H635.45V164.31H635ZM635.45 107.51H636V164.31H635.45ZM636 104.38H636.45V164.58H636ZM636.45 104.38H637V151.41H636.45ZM637 104.17H638V164.65H637ZM638 104.34H638.45V164.56H638ZM638.45 109.26H639V154.69H638.45ZM639 108.66H640V164.68H639ZM640 108.4H641V164.78H640ZM641 108.41H641.45V164.22H641ZM641.45 109.75H642V150.52H641.45ZM642 108.26H643V167.25H642ZM643 108.24H644V167.03H643ZM644 108.51H644.45V166.87H644ZM644.45 109.26H645V151.29H644.45ZM645 108.71H646V167.06H645ZM646 108.04H646.45V167.26H646ZM646.45 108.04H647V157.92H646.45ZM647 108.15H647.45V166.76H647ZM647.45 109.93H648V166.76H647.45ZM648 108.53H649V166.87H648ZM649 108.73H649.45V167.01H649ZM649.45 108.73H650V152.08H649.45ZM650 108.5H650.45V166.94H650ZM650.45 110.14H651V166.94H650.45ZM651 108.54H652V167.33H651ZM652 108.53H652.45V167.13H652ZM652.45 108.53H653V150.62H652.45ZM653 108.08H653.45V167.35H653ZM653.45 109.25H654V167.35H653.45ZM654 108.62H654.45V166.77H654ZM654.45 108.62H655V151.48H654.45ZM655 108.3H656V164.34H655ZM656 108.63H656.45V164.55H656ZM656.45 109.97H657V164.55H656.45ZM657 108.24H657.45V164.66H657ZM657.45 108.24H658V153.79H657.45ZM658 108.34H659V164.49H658ZM659 108.75H659.45V164.96H659ZM659.45 110.6H660V164.96H659.45ZM660 108.03H660.45V164.9H660ZM660.45 108.03H661V149.62H660.45ZM661 108.46H662V164.27H661ZM662 108.36H662.45V164.99H662ZM662.45 110.3H663V151.41H662.45ZM663 108.75H664V164.22H663ZM664 108.38H665V164.67H664ZM665 108.08H665.45V164.48H665ZM665.45 109.95H666V154.86H665.45ZM666 108.01H667V165H666ZM667 108.55H668V162.4H667ZM668 108.77H668.45V162.43H668ZM668.45 111.58H669V154.08H668.45ZM669 108.01H670V161.92H669ZM670 108.19H670.45V161.91H670ZM670.45 108.19H671V153.38H670.45ZM671 108.04H671.45V161.88H671ZM671.45 111.33H672V161.88H671.45ZM672 108.68H673V161.92H672ZM673 108.07H673.45V162H673ZM673.45 108.07H674V149.52H673.45ZM674 108.37H674.45V161.75H674ZM674.45 110.49H675V161.75H674.45ZM675 109.77H676V161.93H675ZM676 109.01H676.45V162.49H676ZM676.45 109.01H677V149.91H676.45ZM677 109.65H677.45V162.44H677ZM677.45 111.26H678V162.44H677.45ZM678 109.58H678.45V162.37H678ZM678.45 109.58H679V148.22H678.45ZM679 109.39H680V162.45H679ZM680 109.29H680.45V162.04H680ZM680.45 111.48H681V162.04H680.45ZM681 109.54H681.45V162.38H681ZM681.45 109.54H682V148.57H681.45ZM682 109.29H683V161.98H682ZM683 109.5H683.45V162.17H683ZM683.45 111.57H684V162.17H683.45ZM684 109.63H684.45V161.74H684ZM684.45 109.63H685V148.47H684.45ZM685 109.45H686V160.77H685ZM686 109.05H686.45V160.22H686ZM686.45 112.27H687V147.94H686.45ZM687 109.27H688V160.52H687ZM688 109.78H689V160.33H688ZM689 109.48H689.45V160.75H689ZM689.45 111.9H690V147.42H689.45ZM690 110.3H691V160.45H690ZM691 110.48H692V160.28H691ZM692 110.65H692.45V160.77H692ZM692.45 111.73H693V151.75H692.45ZM693 110.34H694V160.53H693ZM694 110.65H694.45V160.29H694ZM694.45 110.65H695V153.05H694.45ZM695 110.67H695.45V161.85H695ZM695.45 113.31H696V161.85H695.45ZM696 110.46H697V162.28H696ZM697 105.68H697.45V161.85H697ZM697.45 105.68H698V148.71H697.45ZM698 105.73H698.45V162.22H698ZM698.45 109.34H699V162.22H698.45ZM699 105.44H700V161.86H699ZM700 116.16H700.45V161.9H700ZM700.45 116.16H701V146.64H700.45ZM701 116.19H701.45V162.01H701ZM701.45 116.04H702V162.01H701.45ZM702 116.37H702.9V162.33H702Z"/>
<path fill="#ff7f0e" fill-opacity="0.8" d="M73.6 129.75H74V131.35H73.6ZM74 129.75H75V131.35H74ZM75 129.75H76V131.35H75ZM76 114.68H77V138.93H76ZM77 112.04H78V140.01H77ZM78 110.21H79V136.16H78ZM79 102.27H80V176.71H79ZM80 99.78H81V182.16H80ZM81 77.05H82V157.79H81ZM82 77.05H83V182.33H82ZM83 94.38H84V180.19H83ZM84 90.97H85V159.72H84ZM85 93.84H86V182.2H85ZM86 90.77H87V181.86H86ZM87 94.97H88V152.53H87ZM88 89.56H89V180.78H88ZM89 96.33H90V181.92H89ZM90 93.94H91V153.41H90ZM91 97.37H92V179.89H91ZM92 96.39H93V178H92ZM93 101.58H94V161.6H93ZM94 98.02H95V178.69H94ZM95 99.65H96V176.47H95ZM96 99.89H97V154.14H96ZM97 99.63H98V177.31H97ZM98 99.83H99V177.5H98ZM99 100.71H100V149.45H99ZM100 100.88H101V172.41H100ZM101 101.26H102V171.1H101ZM102 100.72H103V155.81H102ZM103 101.07H104V173.52H103ZM104 100.59H105V168.98H104ZM105 102.46H106V150.53H105ZM106 105.69H107V171.38H106ZM107 108.08H108V169.13H107ZM108 109.19H109V153.91H108ZM109 109.65H110V166.71H109ZM110 110.37H111V164.56H110ZM111 110.33H112V151.72H111ZM112 111.57H113V160.94H112ZM113 112.02H114V160.36H113ZM114 111.97H115V147.88H114ZM115 112.7H116V155.43H115ZM116 113.4H117V154.99H116ZM117 114.18H118V144.18H117ZM118 115.31H119V149.3H118ZM119 115.4H120V148.61H119ZM120 116.28H121V138.14H120ZM121 117.33H122V145.67H121ZM122 118.61H123V144.07H122ZM123 119.48H124V136.29H123ZM124 120.32H125V142.01H124ZM125 123.6H126V140.79H125ZM126 121.6H127V137.9H126ZM127 123.09H128V140H127ZM128 123.19H129V139.59H128ZM129 124.77H130V140.2H129ZM130 122.86H131V138.62H130ZM131 125.38H132V138.57H131ZM132 124.28H133V137.83H132ZM133 124.57H134V137.87H133ZM134 124.45H135V135.88H134ZM135 125.16H136V136.86H135ZM136 124.98H137V135.04H136ZM137 126.67H138V135.92H137ZM138 125.67H139V135.24H138ZM139 127.32H140V136.09H139ZM140 126.63H141V134.6H140ZM141 127.64H142V135.12H141ZM142 126.61H143V134.14H142ZM143 127.89H144V134.84H143ZM144 127.26H145V134.41H144ZM145 128.19H146V134.7H145ZM146 127.72H147V133.98H146ZM147 127.95H148V133.85H147ZM148 127.66H149V133.18H148ZM149 128.35H150V133.66H149ZM150 127.8H151V133.62H150ZM151 127.56H152V133.87H151ZM152 127.6H153V133.76H152ZM153 127.65H154V133.65H153ZM154 127.7H155V133.54H154ZM155 127.74H156V133.43H155ZM156 127.79H157V133.33H156ZM157 127.83H158V133.22H157ZM158 127.88H159V133.11H158ZM159 127.93H160V133H159ZM160 127.95H161V132.95H160ZM161 127.96H162V132.95H161ZM162 127.97H163V132.95H162ZM163 127.97H164V132.95H163ZM164 127.98H165V132.95H164ZM165 127.99H166V132.95H165ZM166 127.99H167V132.95H166ZM167 128H168V132.95H167ZM168 128.01H169V132.95H168ZM169 128.01H170V132.95H169ZM170 128.02H171V132.95H170ZM171 128.03H172V132.95H171ZM172 128.03H173V132.95H172ZM173 128.04H174V132.95H173ZM174 128.05H175V132.95H174ZM175 128.05H176V132.96H175ZM176 128.04H177V132.97H176ZM177 128.03H178V132.98H177ZM178 128.02H179V132.99H178ZM179 128.01H180V133H179ZM180 128.01H181V133.02H180ZM181 128H182V133.03H181ZM182 127.99H183V133.04H182ZM183 127.98H184V133.05H183ZM184 127.97H185V133.06H184ZM185 127.97H186V133.08H185ZM186 127.96H187V133.09H186ZM187 127.95H188V133.1H187ZM188 127.94H189V133.11H188ZM189 127.93H190V133.12H189ZM190 127.93H191V133.14H190ZM191 127.92H192V133.15H191ZM192 127.91H193V133.16H192ZM193 127.9H194V133.17H193ZM194 127.89H195V133.18H194ZM195 127.89H196V133.2H195ZM196 127.88H197V133.21H196ZM197 127.87H198V133.22H197ZM198 127.86H199V133.23H198ZM199 127.85H200V133.24H199ZM200 127.88H201V133.22H200ZM201 127.95H202V133.15H201ZM202 128.01H203V133.09H202ZM203 128.08H204V133.02H203ZM204 128.14H205V132.96H204ZM205 128.21H206V132.89H205ZM206 128.27H207V132.83H206ZM207 128.34H208V132.76H207ZM208 128.4H209V132.7H208ZM209 128.47H210V132.63H209ZM210 128.53H211V132.57H210ZM211 128.6H212V132.5H211ZM212 128.66H213V132.44H212ZM213 128.73H214V132.37H213ZM214 128.79H215V132.31H214ZM215 128.86H216V132.24H215ZM216 128.92H217V132.18H216ZM217 128.99H218V132.11H217ZM218 129.05H219V132.05H218ZM219 129.12H220V131.98H219ZM220 129.14H221V131.96H220ZM221 129.11H222V131.99H221ZM222 129.08H223V132.02H222ZM223 129.05H224V132.05H223ZM224 129.02H225V132.08H224ZM225 128.99H226V132.11H225ZM226 128.96H227V132.14H226ZM227 128.94H228V132.16H227ZM228 128.91H229V132.19H228ZM229 128.88H230V132.22H229ZM230 128.85H231V132.25H230ZM231 128.82H232V132.28H231ZM232 128.79H233V132.31H232ZM233 128.76H234V132.34H233ZM234 128.61H235V132.49H234ZM235 128.32H236V132.78H235ZM236 128.04H237V133.06H236ZM237 127.75H238V133.35H237ZM238 127.47H239V133.27H238ZM239 128.28H240V133.56H239ZM240 126.95H241V132.98H240ZM241 127.27H242V134.08H241ZM242 126.33H243V133.32H242ZM243 126.7H244V134.62H243ZM244 126.37H245V133.67H244ZM245 126.19H246V135.27H245ZM246 125.83H247V134.63H246ZM247 125.58H248V135.54H247ZM248 124.96H249V134.65H248ZM249 126.15H250V136.72H249ZM250 124.16H251V135.29H250ZM251 125.84H252V136.74H251ZM252 123.61H253V136.4H252ZM253 125H254V137.56H253ZM254 122.94H255V137.45H254ZM255 123.36H256V138.74H255ZM256 122.82H257V136.63H256ZM257 122.95H258V139.23H257ZM258 121.47H259V137.13H258ZM259 122.17H260V139.83H259ZM260 120.84H261V139.59H260ZM261 122.93H262V139.35H261ZM262 120.93H263V138.4H262ZM263 122.17H264V139.52H263ZM264 122.17H265V139.1H264ZM265 123.54H266V139.16H265ZM266 122.08H267V138.32H266ZM267 124.53H268V139.47H267ZM268 122.16H269V137.94H268ZM269 124.39H270V139.52H269ZM270 121.85H271V138.57H270ZM271 124.09H272V139.29H271ZM272 122.61H273V138.1H272ZM273 124.8H274V139.28H273ZM274 122.06H275V137.34H274ZM275 123.97H276V138.6H275ZM276 122.88H277V136.08H276ZM277 123.49H278V137.71H277ZM278 123.89H279V135.8H278ZM279 125.37H280V137.78H279ZM280 124.62H281V135.34H280ZM281 125.1H282V136.5H281ZM282 125.19H283V135.7H282ZM283 125.82H284V136.21H283ZM284 125.16H285V134.45H284ZM285 125.94H286V135.75H285ZM286 126.28H287V134.02H286ZM287 126.94H288V134.96H287ZM288 126.63H289V133.61H288ZM289 127.4H290V134.27H289ZM290 126.81H291V134.06H290ZM291 127.96H292V134.15H291ZM292 127.12H293V133.06H292ZM293 127.68H294V133.93H293ZM294 127.69H295V132.96H294ZM295 127.61H296V133.53H295ZM296 127.82H297V133.31H296ZM297 128.03H298V133.09H297ZM298 128.24H299V132.88H298ZM299 128.45H300V132.66H299ZM300 128.57H301V132.53H300ZM301 128.61H302V132.49H301ZM302 128.65H303V132.45H302ZM303 128.68H304V132.42H303ZM304 128.72H305V132.38H304ZM305 128.76H306V132.34H305ZM306 128.8H307V132.3H306ZM307 128.84H308V132.26H307ZM308 128.87H309V132.23H308ZM309 128.91H310V132.19H309ZM310 128.95H311V132.15H310ZM311 128.99H312V132.11H311ZM312 129.03H313V132.07H312ZM313 129.06H314V132.04H313ZM314 129.1H315V132H314ZM315 129.14H316V131.96H315ZM316 129.18H317V131.92H316ZM317 129.22H318V131.88H317ZM318 129.25H319V131.85H318ZM319 129.29H320V131.81H319ZM320 129.33H321V131.77H320ZM321 129.35H322V131.75H321ZM322 129.35H323V131.75H322ZM323 129.35H324V131.75H323ZM324 129.35H325V131.75H324ZM325 129.35H326V131.75H325ZM326 129.36H327V131.74H326ZM327 129.36H328V131.74H327ZM328 129.36H329V131.74H328ZM329 129.36H330V131.74H329ZM330 129.36H331V131.74H330ZM331 129.36H332V131.74H331ZM332 129.36H333V131.74H332ZM333 129.36H334V131.74H333ZM334 129.36H335V131.74H334ZM335 129.36H336V131.74H335ZM336 129.37H337V131.73H336ZM337 129.37H338V131.73H337ZM338 129.37H339V131.73H338ZM339 129.37H340V131.73H339ZM340 129.37H341V131.73H340ZM341 129.37H342V131.73H341ZM342 129.37H343V131.73H342ZM343 129.37H344V131.73H343ZM344 129.37H345V131.73H344ZM345 129.37H346V131.73H345ZM346 129.38H347V131.72H346ZM347 129.38H348V131.72H347ZM348 129.38H349V131.72H348ZM349 129.38H350V131.72H349ZM350 129.38H351V131.72H350ZM351 129.38H352V131.72H351ZM352 129.38H353V131.72H352ZM353 129.38H354V131.72H353ZM354 129.38H355V131.72H354ZM355 129.38H356V131.72H355ZM356 129.39H357V131.71H356ZM357 129.39H358V131.71H357ZM358 129.39H359V131.71H358ZM359 129.39H360V131.71H359ZM360 129.39H361V131.71H360ZM361 129.39H362V131.71H361ZM362 129.39H363V131.71H362ZM363 129.39H364V131.71H363ZM364 129.39H365V131.71H364ZM365 129.39H366V131.71H365ZM366 129.4H367V131.7H366ZM367 129.4H368V131.7H367ZM368 129.4H369V131.7H368ZM369 129.4H370V131.7H369ZM370 129.4H371V131.7H370ZM371 129.4H372V131.7H371ZM372 129.4H373V131.7H372ZM373 129.4H374V131.7H373ZM374 129.4H375V131.7H374ZM375 129.4H376V131.7H375ZM376 129.41H377V131.69H376ZM377 129.41H378V131.69H377ZM378 129.41H379V131.69H378ZM379 129.41H380V131.69H379ZM380 129.41H381V131.69H380ZM381 129.41H382V131.69H381ZM382 129.41H383V131.69H382ZM383 129.41H384V131.69H383ZM384 129.41H385V131.69H384ZM385 129.41H386V131.69H385ZM386 129.42H387V131.68H386ZM387 129.42H388V131.68H387ZM388 129.42H389V131.68H388ZM389 129.42H390V131.68H389ZM390 129.42H391V131.68H390ZM391 129.42H392V131.68H391ZM392 129.42H393V131.68H392ZM393 129.42H394V131.68H393ZM394 129.42H395V131.68H394ZM395 129.42H396V131.68H395ZM396 129.43H397V131.67H396ZM397 129.43H398V131.67H397ZM398 129.43H399V131.67H398ZM399 129.43H400V131.67H399ZM400 129.43H401V131.67H400ZM401 129.43H402V131.67H401ZM402 129.43H403V131.67H402ZM403 129.43H404V131.67H403ZM404 129.43H405V131.67H404ZM405 129.43H406V131.67H405ZM406 129.44H407V131.66H406ZM407 129.44H408V131.66H407ZM408 129.44H409V131.66H408ZM409 129.44H410V131.66H409ZM410 129.44H411V131.66H410ZM411 129.44H412V131.66H411ZM412 129.44H413V131.66H412ZM413 129.44H414V131.66H413ZM414 129.44H415V131.66H414ZM415 129.44H416V131.66H415ZM416 129.45H417V131.65H416ZM417 129.45H418V131.65H417ZM418 129.45H419V131.65H418ZM419 129.45H420V131.65H419ZM420 129.45H421V131.65H420ZM421 129.45H422V131.65H421ZM422 129.45H423V131.65H422ZM423 129.45H424V131.65H423ZM424 129.45H425V131.65H424ZM425 129.46H426V131.64H425ZM426 129.46H427V131.64H426ZM427 129.46H428V131.64H427ZM428 129.46H429V131.64H428ZM429 129.46H430V131.64H429ZM430 129.46H431V131.64H430ZM431 129.46H432V131.64H431ZM432 129.46H433V131.64H432ZM433 129.46H434V131.64H433ZM434 129.46H435V131.64H434ZM435 129.47H436V131.63H435ZM436 129.47H437V131.63H436ZM437 129.47H438V131.63H437ZM438 129.47H439V131.63H438ZM439 129.47H440V131.63H439ZM440 129.47H441V131.63H440ZM441 129.47H442V131.63H441ZM442 129.47H443V131.63H442ZM443 129.47H444V131.63H443ZM444 129.47H445V131.63H444ZM445 129.48H446V131.62H445ZM446 129.48H447V131.62H446ZM447 129.48H448V131.62H447ZM448 129.48H449V131.62H448ZM449 129.48H450V131.62H449ZM450 129.48H451V131.62H450ZM451 129.48H452V131.62H451ZM452 129.48H453V131.62H452ZM453 129.48H454V131.62H453ZM454 129.48H455V131.62H454ZM455 129.49H456V131.61H455ZM456 129.49H457V131.61H456ZM457 129.49H458V131.61H457ZM458 129.49H459V131.61H458ZM459 129.49H460V131.61H459ZM460 129.49H461V131.61H460ZM461 129.49H462V131.61H461ZM462 129.49H463V131.61H462ZM463 129.49H464V131.61H463ZM464 129.49H465V131.61H464ZM465 129.5H466V131.6H465ZM466 129.5H467V131.6H466ZM467 129.5H468V131.6H467ZM468 129.5H469V131.6H468ZM469 129.5H470V131.6H469ZM470 129.5H471V131.6H470ZM471 129.5H472V131.6H471ZM472 129.5H473V131.6H472ZM473 129.5H474V131.6H473ZM474 129.5H475V131.6H474ZM475 129.51H476V131.59H475ZM476 129.51H477V131.59H476ZM477 129.51H478V131.59H477ZM478 129.51H479V131.59H478ZM479 129.51H480V131.59H479ZM480 129.51H481V131.59H480ZM481 129.51H482V131.59H481ZM482 129.51H483V131.59H482ZM483 129.51H484V131.59H483ZM484 129.51H485V131.59H484ZM485 129.52H486V131.58H485ZM486 129.52H487V131.58H486ZM487 129.52H488V131.58H487ZM488 129.52H489V131.58H488ZM489 129.52H490V131.58H489ZM490 129.52H491V131.58H490ZM491 129.52H492V131.58H491ZM492 129.52H493V131.58H492ZM493 129.52H494V131.58H493ZM494 129.52H495V131.58H494ZM495 129.53H496V131.57H495ZM496 129.53H497V131.57H496ZM497 129.53H498V131.57H497ZM498 129.53H499V131.57H498ZM499 129.53H500V131.57H499ZM500 129.53H501V131.57H500ZM501 129.53H502V131.57H501ZM502 129.53H503V131.57H502ZM503 129.53H504V131.57H503ZM504 129.53H505V131.57H504ZM505 129.54H506V131.56H505ZM506 129.54H507V131.56H506ZM507 129.54H508V131.56H507ZM508 129.54H509V131.56H508ZM509 129.54H510V131.56H509ZM510 129.54H511V131.56H510ZM511 129.54H512V131.56H511ZM512 129.54H513V131.56H512ZM513 129.54H514V131.56H513ZM514 129.54H515V131.56H514ZM515 129.55H516V131.55H515ZM516 129.55H517V131.55H516ZM517 129.55H518V131.55H517ZM518 129.55H519V131.55H518ZM519 129.55H520V131.55H519ZM520 129.49H521V131.61H520ZM521 129.38H522V131.73H521ZM522 129.26H523V131.84H522ZM523 129.14H524V131.96H523ZM524 129.03H525V132.08H524ZM525 128.91H526V132.19H525ZM526 128.79H527V132.31H526ZM527 128.68H528V132.43H527ZM528 128.56H529V132.54H528ZM529 128.44H530V132.66H529ZM530 128.33H531V132.78H530ZM531 128.21H532V132.89H531ZM532 128.12H533V132.98H532ZM533 128.06H534V133.04H533ZM534 128H535V133.1H534ZM535 127.94H536V133.16H535ZM536 127.88H537V133.23H536ZM537 127.81H538V133.29H537ZM538 127.75H539V133.35H538ZM539 127.69H540V133.41H539ZM540 127.63H541V133.47H540ZM541 127.57H542V133.53H541ZM542 127.58H543V132.93H542ZM543 128.23H544V133.63H543ZM544 127.49H545V132.87H544ZM545 128.26H546V133.45H545ZM546 127.54H547V133.49H546ZM547 127.7H548V133.85H547ZM548 127.24H549V133.49H548ZM549 128.25H550V133.77H549ZM550 127.05H551V133.67H550ZM551 128H552V133.82H551ZM552 127.12H553V133.24H552ZM553 127.67H554V133.72H553ZM554 127.13H555V133.45H554ZM555 128.07H556V133.85H555ZM556 126.73H557V133.79H556ZM557 127.11H558V134.23H557ZM558 126.72H559V133.99H558ZM559 127.07H560V133.97H559ZM560 126.72H561V133.45H560ZM561 127.19H562V134.21H561ZM562 126.68H563V134.21H562ZM563 127.16H564V134.29H563ZM564 126.59H565V133.78H564ZM565 126.72H566V134.4H565ZM566 126.64H567V134.1H566ZM567 127.54H568V134.7H567ZM568 126.11H569V134.03H568ZM569 127.22H570V134.82H569ZM570 125.98H571V133.93H570ZM571 127.01H572V135.07H571ZM572 125.66H573V134.66H572ZM573 126.4H574V135.65H573ZM574 125.35H575V135.29H574ZM575 125.13H576V136.49H575ZM576 124.39H577V135.9H576ZM577 125.75H578V137.11H577ZM578 123.89H579V136.26H578ZM579 124.33H580V137.68H579ZM580 123.15H581V136.41H580ZM581 124.38H582V138.66H581ZM582 120.79H583V139.31H582ZM583 122.77H584V141.69H583ZM584 120.02H585V138.36H584ZM585 122.99H586V139.48H585ZM586 122.66H587V138.47H586ZM587 124.4H588V138.76H587ZM588 123.41H589V135.99H588ZM589 123.75H590V137.73H589ZM590 124.11H591V136.15H590ZM591 125.1H592V137.43H591ZM592 124.63H593V135.38H592ZM593 124.77H594V136.8H593ZM594 125.17H595V135.08H594ZM595 126.24H596V136.1H595ZM596 125.37H597V135.29H596ZM597 126.13H598V135.34H597ZM598 125.91H599V134.59H598ZM599 126.77H600V134.7H599ZM600 126.52H601V134H600ZM601 127.18H602V133.88H601ZM602 127.12H603V132.83H602ZM603 127.89H604V133.52H603ZM604 127.72H605V133.38H604ZM605 128.05H606V133.05H605ZM606 128.38H607V132.72H606ZM607 128.63H608V132.47H607ZM608 128.79H609V132.31H608ZM609 128.95H610V132.15H609ZM610 129.11H611V131.99H610ZM611 129.27H612V131.83H611ZM612 129.35H613V131.75H612ZM613 129.35H614V131.75H613ZM614 129.36H615V131.74H614ZM615 129.36H616V131.74H615ZM616 129.36H617V131.74H616ZM617 129.36H618V131.74H617ZM618 129.36H619V131.74H618ZM619 129.37H620V131.73H619ZM620 129.37H621V131.73H620ZM621 129.37H622V131.73H621ZM622 129.37H623V131.73H622ZM623 129.38H624V131.72H623ZM624 129.38H625V131.72H624ZM625 129.38H626V131.72H625ZM626 129.38H627V131.72H626ZM627 129.38H628V131.72H627ZM628 129.39H629V131.71H628ZM629 129.39H630V131.71H629ZM630 129.39H631V131.71H630ZM631 129.39H632V131.71H631ZM632 129.4H633V131.7H632ZM633 129.4H634V131.7H633ZM634 129.4H635V131.7H634ZM635 129.4H636V131.7H635ZM636 129.4H637V131.7H636ZM637 129.41H638V131.69H637ZM638 129.41H639V131.69H638ZM639 129.41H640V131.69H639ZM640 129.41H641V131.69H640ZM641 129.42H642V131.68H641ZM642 129.42H643V131.68H642ZM643 129.42H644V131.68H643ZM644 129.42H645V131.68H644ZM645 129.42H646V131.68H645ZM646 129.43H647V131.67H646ZM647 129.43H648V131.67H647ZM648 129.43H649V131.67H648ZM649 129.43H650V131.67H649ZM650 129.43H651V131.67H650ZM651 129.44H652V131.66H651ZM652 129.44H653V131.66H652ZM653 129.44H654V131.66H653ZM654 129.44H655V131.66H654ZM655 129.45H656V131.65H655ZM656 129.45H657V131.65H656ZM657 129.45H658V131.65H657ZM658 129.45H659V131.65H658ZM659 129.45H660V131.65H659ZM660 129.46H661V131.64H660ZM661 129.46H662V131.64H661ZM662 129.46H663V131.64H662ZM663 129.46H664V131.64H663ZM664 129.47H665V131.63H664ZM665 129.47H666V131.63H665ZM666 129.47H667V131.63H666ZM667 129.47H668V131.63H667ZM668 129.47H669V131.63H668ZM669 129.48H670V131.62H669ZM670 129.48H671V131.62H670ZM671 129.48H672V131.62H671ZM672 129.48H673V131.62H672ZM673 129.49H674V131.61H673ZM674 129.49H675V131.61H674ZM675 129.49H676V131.61H675ZM676 129.49H677V131.61H676ZM677 129.49H678V131.61H677ZM678 129.5H679V131.6H678ZM679 129.5H680V131.6H679ZM680 129.5H681V131.6H680ZM681 129.5H682V131.6H681ZM682 129.51H683V131.59H682ZM683 129.51H684V131.59H683ZM684 129.51H685V131.59H684ZM685 129.51H686V131.59H685ZM686 129.51H687V131.59H686ZM687 129.52H688V131.58H687ZM688 129.52H689V131.58H688ZM689 129.52H690V131.58H689ZM690 129.52H691V131.58H690ZM691 129.53H692V131.57H691ZM692 129.53H693V131.57H692ZM693 129.53H694V131.57H693ZM694 129.53H695V131.57H694ZM695 129.53H696V131.57H695ZM696 129.54H697V131.56H696ZM697 129.54H698V131.56H697ZM698 129.54H699V131.56H698ZM699 129.54H700V131.56H699ZM700 129.55H701V131.55H700ZM701 129.55H702V131.55H701ZM702 129.55H702.6V131.55H702Z"/>
<g stroke="#000" stroke-width="0.8" fill="none" stroke-linecap="square">
<path d="M43.5 18.5V247.5"/>
<path d="M734.0 18.5V247.5"/>
<path d="M43.5 18.5H734.0"/>
<path d="M43.5 247.5H734.0"/>
</g>
<path stroke="#000" stroke-width="0.8" fill="none" d="M74.5 247.5v3.7M167.5 247.5v3.7M259.5 247.5v3.7M352.4 247.5v3.7M444.5 247.5v3.7M537.5 247.5v3.7M629.5 247.5v3.7M722.4 247.5v3.7M43.5 24.5h-3.7M43.5 51.4h-3.7M43.5 78h-3.7M43.5 104h-3.7M43.5 130.55h-3.7M43.5 157.5h-3.7M43.5 184.4h-3.7M43.5 210.5h-3.7M43.5 237h-3.7"/>
<g font-family="Liberation Sans, sans-serif" font-size="10.4" fill="#262626" stroke="#262626" stroke-width="0.25">
<text x="75.4" y="262.5" text-anchor="middle" textLength="6.36" lengthAdjust="spacingAndGlyphs">0</text>
<text x="166.7" y="262.5" text-anchor="middle" textLength="25.45" lengthAdjust="spacingAndGlyphs">2000</text>
<text x="259.05" y="262.5" text-anchor="middle" textLength="25.45" lengthAdjust="spacingAndGlyphs">4000</text>
<text x="351.7" y="262.5" text-anchor="middle" textLength="25.45" lengthAdjust="spacingAndGlyphs">6000</text>
<text x="444.6" y="262.5" text-anchor="middle" textLength="25.45" lengthAdjust="spacingAndGlyphs">8000</text>
<text x="537.6" y="262.5" text-anchor="middle" textLength="34.99" lengthAdjust="spacingAndGlyphs">10,000</text>
<text x="627.5" y="262.5" text-anchor="middle" textLength="34.99" lengthAdjust="spacingAndGlyphs">12,000</text>
<text x="720.1" y="262.5" text-anchor="middle" textLength="34.99" lengthAdjust="spacingAndGlyphs">14,000</text>
<text x="35.9" y="27.75" text-anchor="end" textLength="21.6" lengthAdjust="spacingAndGlyphs">1.00</text>
<text x="35.9" y="54.8" text-anchor="end" textLength="21.6" lengthAdjust="spacingAndGlyphs">0.75</text>
<text x="35.9" y="81.65" text-anchor="end" textLength="21.6" lengthAdjust="spacingAndGlyphs">0.50</text>
<text x="35.9" y="107.9" text-anchor="end" textLength="21.6" lengthAdjust="spacingAndGlyphs">0.25</text>
<text x="35.9" y="134.55" text-anchor="end" textLength="21.6" lengthAdjust="spacingAndGlyphs">0.00</text>
<text x="35.9" y="160.75" text-anchor="end" textLength="29.73" lengthAdjust="spacingAndGlyphs">−0.25</text>
<text x="35.9" y="187.8" text-anchor="end" textLength="29.73" lengthAdjust="spacingAndGlyphs">−0.50</text>
<text x="35.9" y="214.1" text-anchor="end" textLength="29.73" lengthAdjust="spacingAndGlyphs">−0.75</text>
<text x="35.9" y="240.9" text-anchor="end" textLength="29.73" lengthAdjust="spacingAndGlyphs">−1.00</text>
</g>
<text x="387.95" y="12" text-anchor="middle" font-family="Liberation Sans, sans-serif" font-size="12.9" fill="#262626" stroke="#262626" stroke-width="0.25" textLength="140.3" lengthAdjust="spacingAndGlyphs">Waveform Comparison</text>
<rect x="643.9" y="23.9" width="84.4" height="33" rx="2" ry="2" fill="#fff" fill-opacity="0.8" stroke="#ccc" stroke-opacity="0.8" stroke-width="1"/>
<path d="M647.2 32.5H668.8" stroke="#1f77b4" stroke-opacity="0.5" stroke-width="1.5"/>
<path d="M647.2 47.9H668.8" stroke="#ff7f0e" stroke-opacity="0.8" stroke-width="1.5"/>
<g font-family="Liberation Sans, sans-serif" font-size="10.4" fill="#262626" stroke="#262626" stroke-width="0.25">
<text x="677" y="36.3" textLength="39.13" lengthAdjust="spacingAndGlyphs">Original</text>
<text x="677" y="51.7" textLength="46.8" lengthAdjust="spacingAndGlyphs">Denoised</text>
</g>
</svg>
</body></html>
